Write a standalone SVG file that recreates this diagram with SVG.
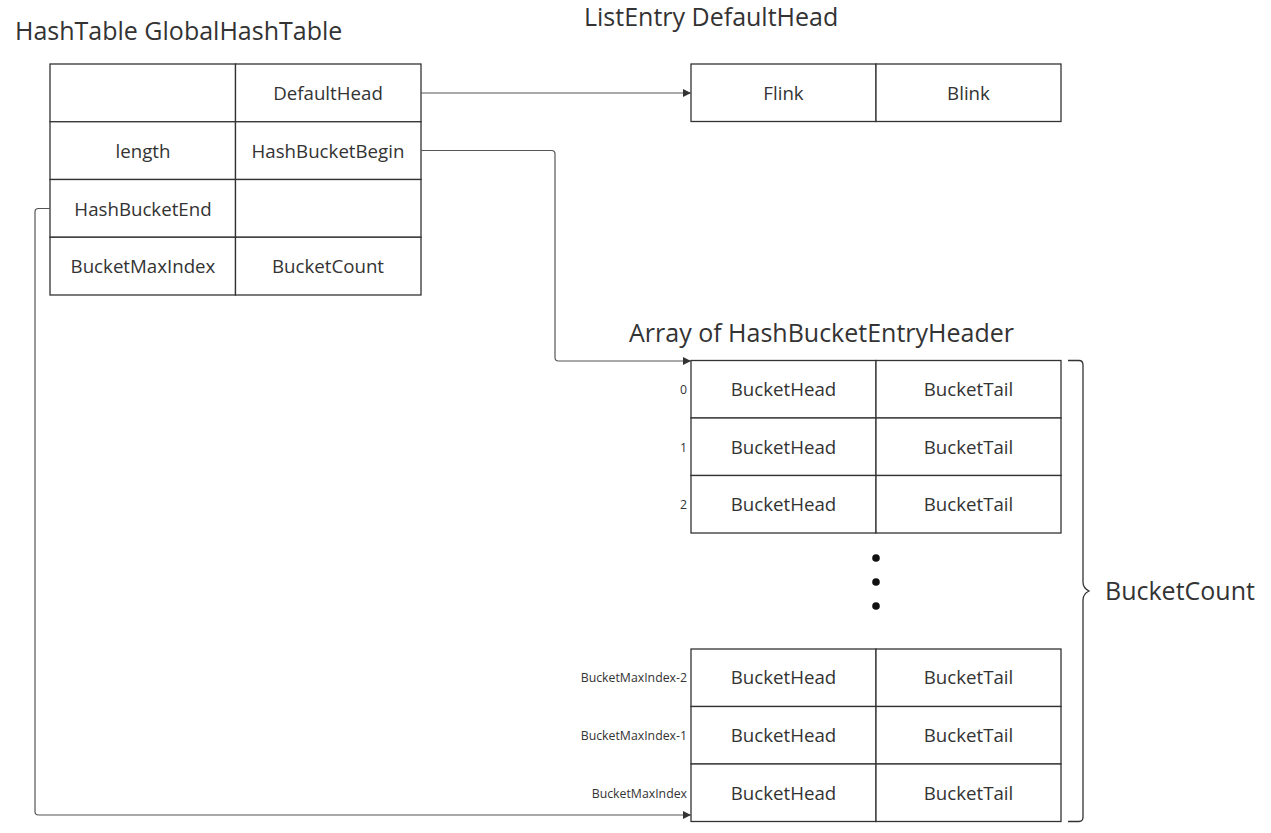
<svg xmlns="http://www.w3.org/2000/svg" width="1271" height="833" viewBox="0 0 1271 833">
<defs>
<style>
.cell{fill:#fff;stroke:#333;stroke-width:1.3}
.t{font-family:"Open Sans","Noto Sans",sans-serif;font-size:18.7px;fill:#333;text-anchor:middle;dominant-baseline:central}
.title{font-family:"Open Sans","Noto Sans",sans-serif;font-size:25px;fill:#333}
.idx{font-family:"Open Sans","Noto Sans",sans-serif;font-size:12.3px;fill:#333;text-anchor:end;dominant-baseline:central}
.conn{fill:none;stroke:#555;stroke-width:1.2}
</style>
<marker id="arr" viewBox="0 0 10 10" refX="10" refY="5" markerWidth="8" markerHeight="8" markerUnits="userSpaceOnUse" orient="auto">
<path d="M0,0 L10,5 L0,10 Z" fill="#333"/>
</marker>
</defs>
<rect width="1271" height="833" fill="#fff"/>

<text class="title" x="15" y="39.5">HashTable GlobalHashTable</text>
<text class="title" x="584" y="25.5">ListEntry DefaultHead</text>
<text class="title" x="629" y="341.5">Array of HashBucketEntryHeader</text>

<g id="hashtable">
<rect class="cell" x="50" y="64" width="185.5" height="57.75"/>
<rect class="cell" x="235.5" y="64" width="185.5" height="57.75"/>
<rect class="cell" x="50" y="121.75" width="185.5" height="57.75"/>
<rect class="cell" x="235.5" y="121.75" width="185.5" height="57.75"/>
<rect class="cell" x="50" y="179.5" width="185.5" height="57.75"/>
<rect class="cell" x="235.5" y="179.5" width="185.5" height="57.75"/>
<rect class="cell" x="50" y="237.25" width="185.5" height="57.75"/>
<rect class="cell" x="235.5" y="237.25" width="185.5" height="57.75"/>
<text class="t" x="328" y="92">DefaultHead</text>
<text class="t" x="143" y="150">length</text>
<text class="t" x="328" y="150">HashBucketBegin</text>
<text class="t" x="143" y="208">HashBucketEnd</text>
<text class="t" x="143" y="265">BucketMaxIndex</text>
<text class="t" x="328" y="265">BucketCount</text>
</g>

<g id="defaulthead">
<rect class="cell" x="691" y="64" width="185" height="57.5"/>
<rect class="cell" x="876" y="64" width="185" height="57.5"/>
<text class="t" x="783.5" y="92">Flink</text>
<text class="t" x="968.5" y="92">Blink</text>
</g>

<g id="bucket-array">
<g id="bucket-0">
<rect class="cell" x="691" y="360.5" width="185" height="57.5"/>
<rect class="cell" x="876" y="360.5" width="185" height="57.5"/>
<text class="t" x="783.5" y="388">BucketHead</text>
<text class="t" x="968.5" y="388">BucketTail</text>
<text class="idx" x="687" y="389">0</text>
</g>
<g id="bucket-1">
<rect class="cell" x="691" y="418" width="185" height="57.5"/>
<rect class="cell" x="876" y="418" width="185" height="57.5"/>
<text class="t" x="783.5" y="446">BucketHead</text>
<text class="t" x="968.5" y="446">BucketTail</text>
<text class="idx" x="687" y="447">1</text>
</g>
<g id="bucket-2">
<rect class="cell" x="691" y="475.5" width="185" height="57.5"/>
<rect class="cell" x="876" y="475.5" width="185" height="57.5"/>
<text class="t" x="783.5" y="503">BucketHead</text>
<text class="t" x="968.5" y="503">BucketTail</text>
<text class="idx" x="687" y="504">2</text>
</g>
<g id="ellipsis" fill="#111">
<circle cx="876" cy="558" r="3.8"/>
<circle cx="876" cy="582" r="3.8"/>
<circle cx="876" cy="606" r="3.8"/>
</g>
<g id="bucket-max-2">
<rect class="cell" x="691" y="649" width="185" height="57.5"/>
<rect class="cell" x="876" y="649" width="185" height="57.5"/>
<text class="t" x="783.5" y="676.5">BucketHead</text>
<text class="t" x="968.5" y="676.5">BucketTail</text>
<text class="idx" x="687" y="677">BucketMaxIndex-2</text>
</g>
<g id="bucket-max-1">
<rect class="cell" x="691" y="706.5" width="185" height="57.5"/>
<rect class="cell" x="876" y="706.5" width="185" height="57.5"/>
<text class="t" x="783.5" y="734">BucketHead</text>
<text class="t" x="968.5" y="734">BucketTail</text>
<text class="idx" x="687" y="735">BucketMaxIndex-1</text>
</g>
<g id="bucket-max">
<rect class="cell" x="691" y="764" width="185" height="57.5"/>
<rect class="cell" x="876" y="764" width="185" height="57.5"/>
<text class="t" x="783.5" y="792">BucketHead</text>
<text class="t" x="968.5" y="792">BucketTail</text>
<text class="idx" x="687" y="793">BucketMaxIndex</text>
</g>
</g>

<g id="brace">
<path d="M1068,360.5 H1079 Q1083,360.5 1083,365 V582 Q1083,588 1089,591 Q1083,594 1083,600 V817 Q1083,821.5 1079,821.5 H1068" fill="none" stroke="#333" stroke-width="1.3"/>
<text class="title" x="1105" y="600">BucketCount</text>
</g>

<g id="connectors">
<path class="conn" d="M421,93 H691" marker-end="url(#arr)"/>
<path class="conn" d="M421,150.5 H551.5 Q555,150.5 555,154 V357.5 Q555,361 558.5,361 H691" marker-end="url(#arr)"/>
<path class="conn" d="M50,208.5 H38.5 Q35,208.5 35,212 V811.5 Q35,815 38.5,815 H691" marker-end="url(#arr)"/>
</g>
</svg>
